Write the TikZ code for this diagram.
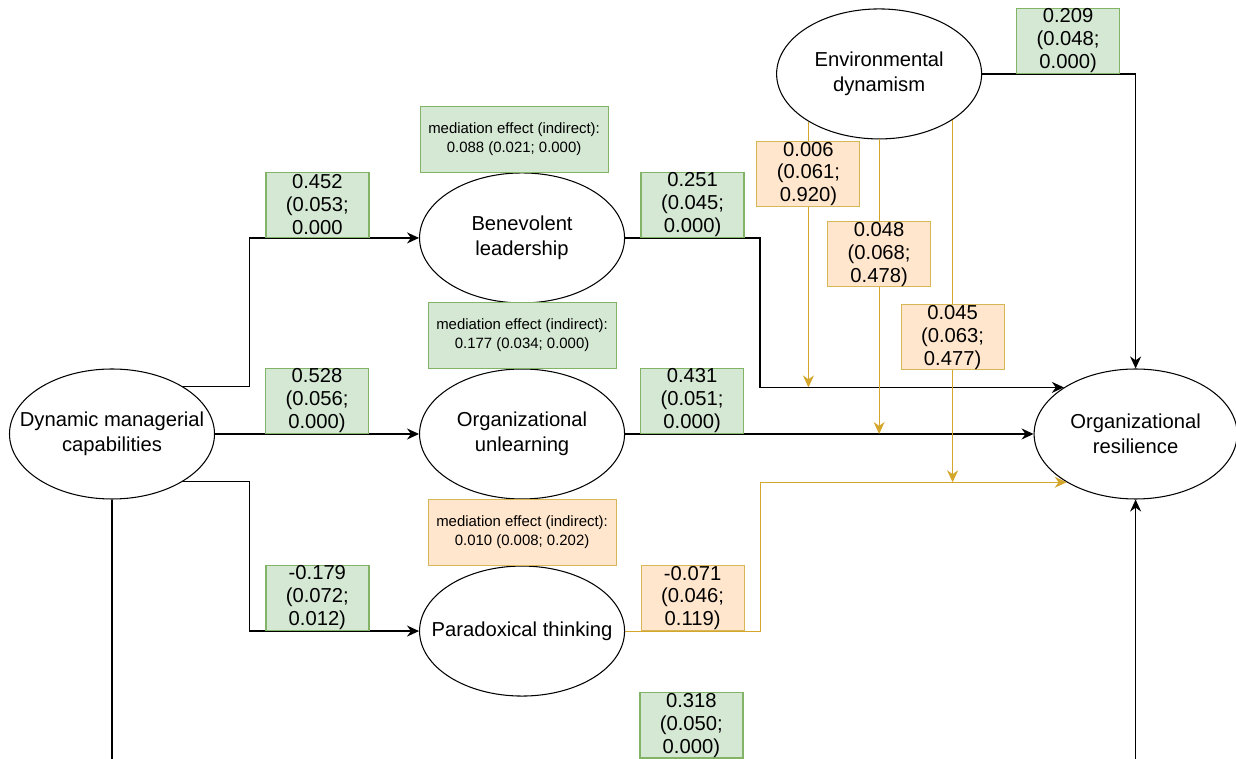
\documentclass[tikz,border=0pt]{standalone}
\usepackage{fontspec}
\setmainfont{Liberation Sans}
\usetikzlibrary{shapes,arrows.meta,positioning,calc}
\definecolor{sigfill}{HTML}{D5E8D4}
\definecolor{sigline}{HTML}{82B366}
\definecolor{nsfill}{HTML}{FFE6CC}
\definecolor{nsline}{HTML}{D6B656}
\definecolor{modline}{HTML}{D4A72C}

\begin{document}
\begin{tikzpicture}[
    node distance=1.3cm,
    latent/.style={ellipse, draw, semithick, minimum width=4.1cm, minimum height=2.6cm,
                   inner xsep=-0.6cm, inner ysep=0pt, align=center,
                   font=\fontsize{11.5}{14}\selectfont},
    coef/.style={rectangle, draw=sigline, fill=sigfill, minimum width=2.06cm,
                 minimum height=1.3cm, inner sep=0pt, align=center,
                 font=\fontsize{11.5}{13}\selectfont},
    coefns/.style={coef, draw=nsline, fill=nsfill},
    medfx/.style={rectangle, draw=sigline, fill=sigfill, minimum width=3.76cm,
                  minimum height=1.32cm, inner sep=0pt, align=center,
                  font=\fontsize{8.5}{10.5}\selectfont},
    medns/.style={medfx, draw=nsline, fill=nsfill},
    link/.style={-{Stealth[length=2.4mm,width=2.2mm]}, thick},
    modlink/.style={-{Stealth[length=2.4mm,width=2.2mm]}, semithick, draw=modline}
]
\clip (0,0) rectangle (24.72,15.16);
\node[latent] (dmc) at (2.24,6.48) {Dynamic managerial\\capabilities};
\node[latent, right=4.08cm of dmc] (unl) {Organizational\\unlearning};
\node[latent, above=of unl] (ben) {Benevolent\\leadership};
\node[latent, below=1.32cm of unl] (par) {Paradoxical thinking};
\node[latent, minimum width=4.06cm, right=8.17cm of unl] (res) {Organizational\\resilience};
\node[latent, above=4.58cm of res, xshift=-5.13cm] (env) {Environmental\\dynamism};
\node[medfx, above=0pt of ben, xshift=-0.16cm] (med1)
    {mediation effect (indirect):\\0.088 (0.021; 0.000)};
\node[medfx, above=0pt of unl] (med2)
    {mediation effect (indirect):\\0.177 (0.034; 0.000)};
\node[medns, above=0pt of par] (med3)
    {mediation effect (indirect):\\0.010 (0.008; 0.202)};
\coordinate[right=0.69cm of dmc.east] (k0);
\coordinate[right=2.7cm of unl.east] (k1);
\coordinate (low) at (0,-0.08);
\draw[link] (dmc.34) -- (dmc.34 -| k0) -- (k0 |- ben.west)
    -- node[coef, above, pos=0.4] {0.452\\(0.053;\\0.000} (ben.west);
\draw[link] (dmc.east) -- node[coef, above] {0.528\\(0.056;\\0.000)} (unl.west);
\draw[link] (dmc.-34) -- (dmc.-34 -| k0) -- (k0 |- par.west)
    -- node[coef, above, pos=0.4] {-0.179\\(0.072;\\0.012)} (par.west);
\draw[link] (ben.east) -- node[coef, above] {0.251\\(0.045;\\0.000)} (ben.east -| k1)
    -- (k1 |- res.147) -- (res.147);
\draw[link] (unl.east) -- node[coef, above, pos=0.164] {0.431\\(0.051;\\0.000)} (res.west);
\draw[modlink] (par.east) -- node[coefns, above] {-0.071\\(0.046;\\0.119)} (par.east -| k1)
    -- (k1 |- res.215) -- (res.215);
\draw[link] (env.east) -| node[coef, above, pos=0.28] {0.209\\(0.048;\\0.000)} (res.north);
\draw[link] (dmc.south) -- (dmc.south |- low)
    -- node[coef, above, pos=0.566, yshift=0.07cm] {0.318\\(0.050;\\0.000)} (res.south |- low)
    -- (res.south);
% moderation by environmental dynamism
\draw[modlink] (env.-146) -- node[coefns, pos=0.197] {0.006\\(0.061;\\0.920)} (env.-146 |- res.147);
\draw[modlink] (env.south) -- node[coefns, pos=0.39] {0.048\\(0.068;\\0.478)} (env.south |- res.west);
\draw[modlink] (env.-32) -- node[coefns, pos=0.6] {0.045\\(0.063;\\0.477)} (env.-32 |- res.215);
\end{tikzpicture}
\end{document}
